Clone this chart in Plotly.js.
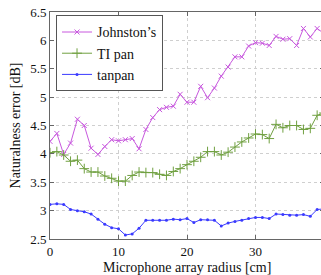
<!DOCTYPE html>
<html>
<head>
<meta charset="utf-8">
<script src="https://cdn.plot.ly/plotly-3.0.1.min.js"></script>
<style>html,body{margin:0;padding:0;background:#fff;overflow:hidden;}</style>
</head>
<body>
<div id="chart"></div>
<script>
var radius = [0,1,2,3,4,5,6,7,8,9,10,11,12,13,14,15,16,17,18,19,20,21,22,23,24,25,26,27,28,29,30,31,32,33,34,35,36,37,38,39,40];
var johnston = [4.22,4.36,3.99,4.19,4.61,4.50,4.10,3.99,4.13,4.25,4.23,4.25,4.27,4.09,4.43,4.64,4.78,4.82,4.84,5.05,4.91,4.91,5.19,4.99,5.16,5.37,5.53,5.71,5.71,5.90,5.96,5.95,5.91,6.07,6.02,6.03,5.91,6.21,6.06,6.21,6.12];
var tipan = [4.02,4.04,3.98,3.87,3.89,3.74,3.68,3.68,3.61,3.57,3.52,3.52,3.62,3.68,3.67,3.67,3.64,3.62,3.69,3.74,3.81,3.87,3.94,4.04,4.04,3.98,4.03,4.12,4.21,4.28,4.35,4.34,4.27,4.52,4.46,4.50,4.50,4.43,4.45,4.68,4.72];
var tanpan = [3.11,3.12,3.11,3.02,3.00,2.98,2.94,2.85,2.76,2.70,2.68,2.57,2.59,2.69,2.83,2.83,2.83,2.83,2.85,2.84,2.86,2.79,2.84,2.84,2.83,2.73,2.78,2.81,2.83,2.86,2.88,2.88,2.86,2.94,2.93,2.92,2.92,2.93,2.90,3.02,3.03];
var seriesNames = ["Johnston\u2019s", "TI pan", "tanpan"];
var xTicks = [0,10,20,30,40];
var yTicks = [2.5,3,3.5,4,4.5,5,5.5,6,6.5];
var yTickText = ["2.5","3","3.5","4","4.5","5","5.5","6","6.5"];
var xTitle = "Microphone array radius [cm]";
var yTitle = "Naturalness error [dB]";

var fam = "Liberation Serif, Times New Roman, serif";
var font = {family: fam, size: 13, color: "#111"};
var titleFont = {family: fam, size: 14, color: "#111"};
var traces = [
  {x: radius, y: johnston, name: seriesNames[0], mode: "lines+markers",
   line: {color: "#c858de", width: 1},
   marker: {symbol: "x-thin-open", size: 5, line: {color: "#c858de", width: 1}}},
  {x: radius, y: tipan, name: seriesNames[1], mode: "lines+markers",
   line: {color: "#70a040", width: 1},
   marker: {symbol: "cross-thin-open", size: 7, line: {color: "#70a040", width: 1}}},
  {x: radius, y: tanpan, name: seriesNames[2], mode: "lines+markers",
   line: {color: "#3a3aff", width: 1},
   marker: {symbol: "circle", size: 3, color: "#3a3aff"}}
];
var axisCommon = {
  showline: true, linecolor: "#666", linewidth: 1, mirror: "ticks",
  ticks: "inside", ticklen: 4, tickcolor: "#666",
  showgrid: true, gridcolor: "#cfcfcf", griddash: "dot", gridwidth: 1,
  zeroline: false, tickfont: font
};
var layout = {
  width: 330, height: 275,
  margin: {l: 50, r: 6, t: 12, b: 36},
  paper_bgcolor: "#fff", plot_bgcolor: "#fff",
  font: font,
  showlegend: true,
  legend: {x: 0.022, y: 0.985, xanchor: "left", yanchor: "top",
           bgcolor: "#fff", bordercolor: "#555", borderwidth: 1, itemwidth: 30,
           font: {family: fam, size: 14, color: "#111"}},
  xaxis: Object.assign({}, axisCommon, {range: [0, 40], tickvals: xTicks}),
  yaxis: Object.assign({}, axisCommon, {range: [2.5, 6.5], tickvals: yTicks, ticktext: yTickText,
    title: {text: yTitle, font: titleFont, standoff: 6}}),
  annotations: [{text: xTitle, xref: "paper", yref: "paper", x: 0.5, y: -0.125,
                 xanchor: "center", yanchor: "middle", showarrow: false, font: titleFont}]
};
Plotly.newPlot("chart", traces, layout, {displayModeBar: false, staticPlot: true});
</script>
</body>
</html>
